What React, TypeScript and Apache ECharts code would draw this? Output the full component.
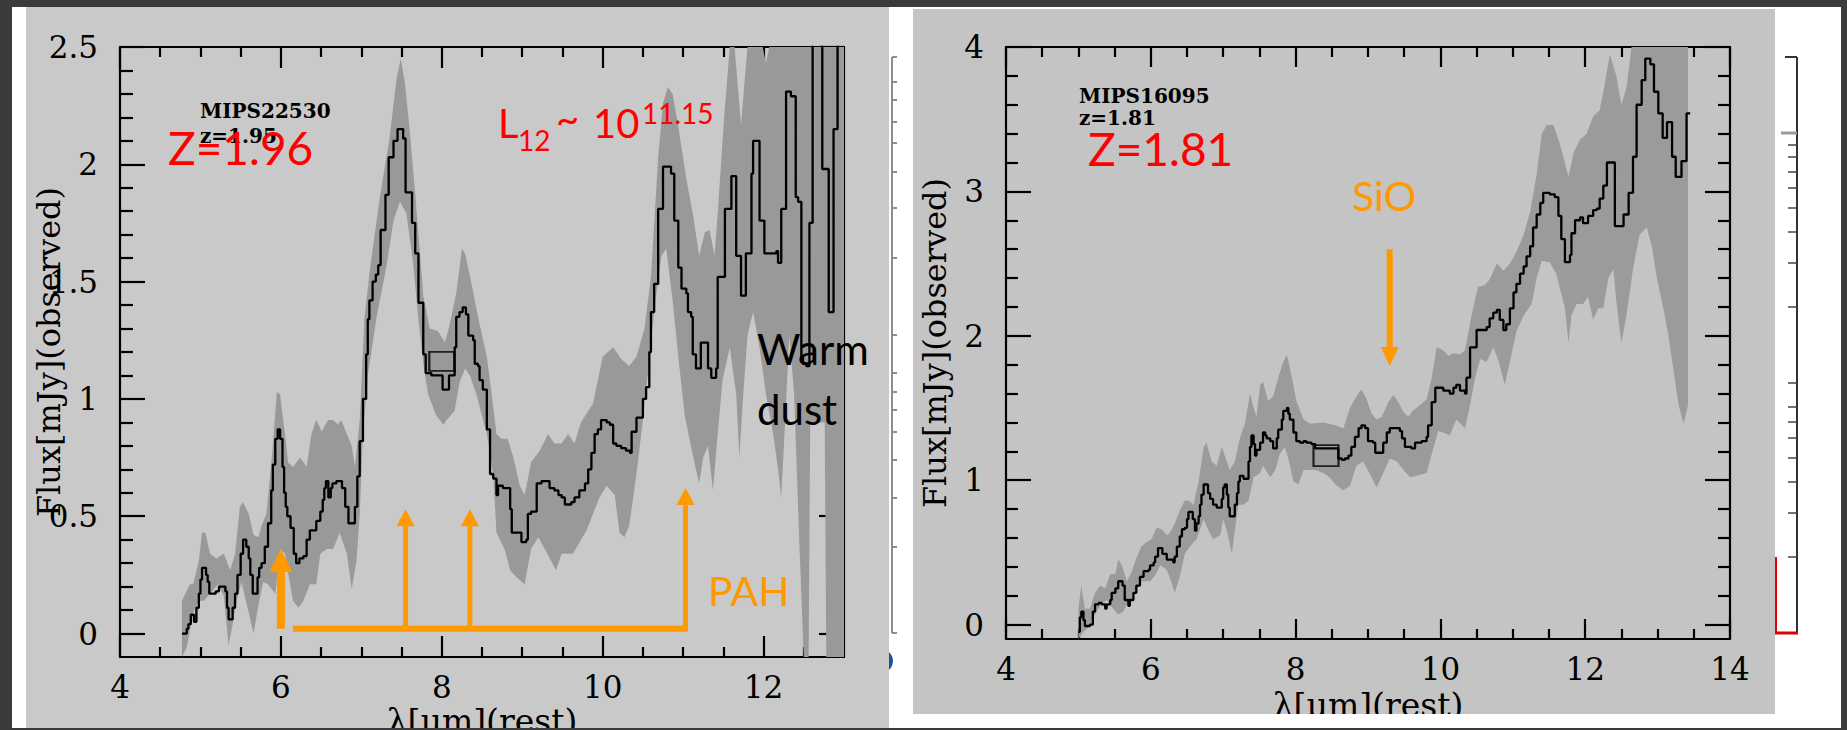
import React, { useEffect, useRef } from "react";
import * as echarts from "echarts";

// ---------- MIPS22530 (left panel) ----------
const LEFT_SPECTRUM: [number, number][] = [
  [4.77, 0.0], [4.83, 0.02], [4.85, 0.04], [4.88, 0.08], [4.92, 0.05], [4.95, 0.11], [4.98, 0.17], [5.0, 0.23],
  [5.02, 0.28], [5.07, 0.25], [5.09, 0.22], [5.11, 0.17], [5.19, 0.18], [5.23, 0.2], [5.29, 0.2], [5.31, 0.18],
  [5.33, 0.11], [5.35, 0.06], [5.4, 0.11], [5.43, 0.17], [5.46, 0.25], [5.5, 0.34], [5.53, 0.4], [5.57, 0.37],
  [5.6, 0.32], [5.62, 0.25], [5.65, 0.17], [5.71, 0.24], [5.73, 0.28], [5.76, 0.3], [5.8, 0.37], [5.84, 0.47],
  [5.88, 0.61], [5.9, 0.72], [5.93, 0.83], [5.96, 0.87], [5.99, 0.83], [6.02, 0.71], [6.04, 0.6], [6.06, 0.54],
  [6.08, 0.5], [6.12, 0.45], [6.16, 0.34], [6.19, 0.3], [6.23, 0.32], [6.28, 0.33], [6.32, 0.4], [6.36, 0.44],
  [6.44, 0.48], [6.49, 0.52], [6.52, 0.57], [6.54, 0.62], [6.56, 0.65], [6.59, 0.58], [6.62, 0.62], [6.64, 0.64],
  [6.69, 0.65], [6.76, 0.62], [6.8, 0.54], [6.84, 0.47], [6.92, 0.54], [6.95, 0.67], [6.98, 0.82], [7.02, 1.0],
  [7.06, 1.19], [7.08, 1.34], [7.1, 1.42], [7.14, 1.5], [7.18, 1.53], [7.21, 1.57], [7.24, 1.72], [7.3, 1.87],
  [7.34, 2.03], [7.4, 2.1], [7.45, 2.15], [7.52, 2.11], [7.55, 1.88], [7.63, 1.75], [7.67, 1.62], [7.71, 1.41],
  [7.77, 1.19], [7.8, 1.11], [7.87, 1.1], [7.95, 1.1], [8.01, 1.04], [8.09, 1.1], [8.16, 1.22], [8.18, 1.35],
  [8.22, 1.37], [8.26, 1.39], [8.3, 1.36], [8.33, 1.27], [8.39, 1.25], [8.41, 1.15], [8.45, 1.14], [8.47, 1.08],
  [8.51, 1.04], [8.56, 0.87], [8.6, 0.68], [8.64, 0.66], [8.68, 0.59], [8.7, 0.63], [8.76, 0.62], [8.85, 0.53],
  [8.87, 0.43], [8.93, 0.43], [8.99, 0.39], [9.05, 0.4], [9.07, 0.51], [9.11, 0.52], [9.18, 0.64], [9.24, 0.65],
  [9.3, 0.65], [9.34, 0.62], [9.4, 0.61], [9.45, 0.59], [9.49, 0.58], [9.53, 0.55], [9.61, 0.56], [9.65, 0.58],
  [9.71, 0.61], [9.78, 0.64], [9.82, 0.7], [9.86, 0.77], [9.9, 0.85], [9.94, 0.87], [9.98, 0.91], [10.05, 0.9],
  [10.09, 0.89], [10.13, 0.81], [10.17, 0.8], [10.23, 0.79], [10.29, 0.78], [10.34, 0.77], [10.36, 0.86], [10.42, 0.92],
  [10.5, 1.0], [10.54, 1.05], [10.58, 1.2], [10.6, 1.37], [10.64, 1.49], [10.69, 1.81], [10.75, 1.99], [10.85, 1.96],
  [10.89, 1.76], [10.94, 1.56], [10.98, 1.47], [11.04, 1.45], [11.06, 1.37], [11.1, 1.35], [11.12, 1.19], [11.16, 1.13],
  [11.22, 1.24], [11.31, 1.13], [11.35, 1.09], [11.41, 1.13], [11.43, 1.52], [11.52, 1.81], [11.6, 1.95], [11.66, 1.61],
  [11.72, 1.44], [11.78, 1.62], [11.85, 1.96], [11.87, 2.1], [11.95, 1.76], [12.01, 1.62], [12.16, 1.63], [12.18, 1.58],
  [12.22, 1.81], [12.28, 2.31], [12.34, 2.29], [12.4, 1.86], [12.43, 1.84], [12.47, 1.18], [12.49, 1.15], [12.53, 1.14],
  [12.57, 1.75], [12.61, 2.7], [12.73, 1.98], [12.81, 1.37], [12.87, 2.15], [12.92, 2.7], [13.0, 2.7],
];

const LEFT_BAND_UPPER: [number, number][] = [
  [4.77, 0.14], [4.87, 0.21], [4.91, 0.21], [4.98, 0.31], [5.02, 0.43], [5.06, 0.43], [5.12, 0.34], [5.2, 0.32],
  [5.29, 0.34], [5.37, 0.27], [5.43, 0.34], [5.49, 0.54], [5.53, 0.56], [5.6, 0.51], [5.66, 0.42], [5.72, 0.41],
  [5.76, 0.46], [5.82, 0.51], [5.89, 0.76], [5.95, 1.03], [5.99, 1.02], [6.05, 0.85], [6.09, 0.73], [6.15, 0.71],
  [6.24, 0.75], [6.32, 0.71], [6.38, 0.85], [6.44, 0.91], [6.51, 0.86], [6.55, 0.89], [6.59, 0.91], [6.65, 0.91],
  [6.71, 0.89], [6.75, 0.91], [6.82, 0.85], [6.88, 0.8], [6.92, 0.71], [6.98, 0.91], [7.04, 1.35], [7.11, 1.56],
  [7.23, 1.86], [7.35, 2.11], [7.44, 2.37], [7.49, 2.45], [7.54, 2.35], [7.6, 2.15], [7.68, 1.83], [7.77, 1.44],
  [7.85, 1.3], [7.95, 1.29], [8.04, 1.24], [8.1, 1.32], [8.18, 1.45], [8.25, 1.64], [8.29, 1.62], [8.37, 1.49],
  [8.45, 1.35], [8.56, 1.18], [8.62, 1.02], [8.68, 0.85], [8.74, 0.83], [8.82, 0.83], [8.89, 0.75], [8.97, 0.63],
  [9.03, 0.59], [9.11, 0.73], [9.22, 0.78], [9.32, 0.85], [9.4, 0.81], [9.49, 0.81], [9.57, 0.85], [9.65, 0.81],
  [9.73, 0.9], [9.88, 0.98], [10.0, 1.18], [10.13, 1.22], [10.23, 1.17], [10.33, 1.14], [10.42, 1.18], [10.52, 1.3],
  [10.6, 1.52], [10.69, 2.03], [10.75, 2.26], [10.81, 2.33], [10.87, 2.3], [10.94, 2.16], [11.04, 1.94], [11.12, 1.79],
  [11.2, 1.61], [11.27, 1.71], [11.33, 1.72], [11.39, 1.61], [11.43, 1.79], [11.51, 2.2], [11.58, 2.7], [11.64, 2.7],
  [11.72, 2.17], [11.8, 2.6], [11.99, 2.6], [12.03, 2.43], [12.07, 2.7], [13.0, 2.7],
];

const LEFT_BAND_LOWER: [number, number][] = [
  [4.77, -0.2], [4.83, -0.06], [4.91, 0.09], [4.98, 0.14], [5.04, 0.14], [5.12, 0.17], [5.22, 0.21], [5.29, 0.16],
  [5.35, -0.05], [5.39, 0.02], [5.45, 0.14], [5.51, 0.22], [5.6, 0.09], [5.66, 0.0], [5.72, 0.12], [5.78, 0.22],
  [5.84, 0.21], [5.93, 0.17], [5.99, 0.36], [6.05, 0.34], [6.11, 0.22], [6.15, 0.14], [6.22, 0.11], [6.28, 0.14],
  [6.36, 0.21], [6.44, 0.21], [6.49, 0.34], [6.57, 0.36], [6.65, 0.36], [6.73, 0.43], [6.82, 0.34], [6.88, 0.19],
  [6.94, 0.31], [6.98, 0.51], [7.02, 0.85], [7.08, 1.1], [7.19, 1.35], [7.31, 1.56], [7.4, 1.76], [7.48, 1.84],
  [7.56, 1.79], [7.64, 1.59], [7.71, 1.34], [7.77, 1.15], [7.83, 1.02], [7.93, 0.93], [8.02, 0.89], [8.06, 0.91],
  [8.16, 0.95], [8.22, 1.07], [8.29, 1.13], [8.35, 1.1], [8.43, 1.02], [8.56, 0.85], [8.64, 0.68], [8.68, 0.43],
  [8.78, 0.36], [8.85, 0.27], [8.93, 0.24], [9.03, 0.21], [9.11, 0.36], [9.2, 0.41], [9.28, 0.36], [9.42, 0.27],
  [9.49, 0.34], [9.63, 0.34], [9.8, 0.44], [9.96, 0.58], [10.05, 0.63], [10.15, 0.59], [10.21, 0.43], [10.27, 0.41],
  [10.33, 0.46], [10.42, 0.68], [10.5, 0.91], [10.56, 1.1], [10.65, 1.4], [10.73, 1.61], [10.79, 1.64], [10.87, 1.42],
  [10.94, 1.18], [11.02, 0.93], [11.12, 0.76], [11.2, 0.64], [11.25, 0.75], [11.31, 0.8], [11.37, 0.61], [11.43, 0.85],
  [11.49, 1.08], [11.58, 1.22], [11.66, 1.02], [11.7, 0.75], [11.74, 0.98], [11.8, 1.27], [11.87, 1.37], [11.95, 1.22],
  [12.03, 1.02], [12.12, 0.85], [12.18, 0.7], [12.22, 0.58], [12.26, 0.85], [12.32, 1.27], [12.38, 1.02], [12.45, 0.34],
  [12.5, -0.3], [12.56, -0.3], [12.58, 0.9], [12.76, 0.9], [12.78, -0.3], [13.0, -0.3],
];

// ---------- MIPS16095 (right panel) ----------
const RIGHT_SPECTRUM: [number, number][] = [
  [5.0, -0.05], [5.02, 0.05], [5.04, 0.09], [5.07, 0.03], [5.09, -0.01], [5.16, 0.0], [5.2, 0.09], [5.23, 0.14],
  [5.28, 0.15], [5.32, 0.14], [5.37, 0.11], [5.39, 0.14], [5.44, 0.17], [5.46, 0.22], [5.51, 0.25], [5.55, 0.3],
  [5.61, 0.27], [5.64, 0.17], [5.69, 0.13], [5.71, 0.17], [5.76, 0.22], [5.8, 0.27], [5.85, 0.33], [5.9, 0.37],
  [5.97, 0.38], [5.99, 0.41], [6.04, 0.43], [6.06, 0.47], [6.1, 0.53], [6.16, 0.49], [6.22, 0.45], [6.31, 0.43],
  [6.33, 0.47], [6.36, 0.54], [6.4, 0.61], [6.43, 0.66], [6.47, 0.67], [6.5, 0.73], [6.52, 0.78], [6.58, 0.73],
  [6.61, 0.65], [6.63, 0.7], [6.66, 0.75], [6.68, 0.83], [6.7, 0.9], [6.73, 0.97], [6.79, 0.91], [6.82, 0.87],
  [6.86, 0.83], [6.91, 0.81], [6.98, 0.87], [7.0, 0.95], [7.02, 0.97], [7.05, 0.9], [7.07, 0.81], [7.09, 0.75],
  [7.16, 0.83], [7.19, 0.91], [7.21, 0.99], [7.23, 1.03], [7.28, 1.01], [7.35, 1.13], [7.37, 1.23], [7.39, 1.31],
  [7.42, 1.25], [7.44, 1.17], [7.46, 1.21], [7.51, 1.26], [7.55, 1.33], [7.58, 1.31], [7.6, 1.29], [7.65, 1.27],
  [7.69, 1.22], [7.74, 1.29], [7.76, 1.35], [7.81, 1.42], [7.83, 1.48], [7.88, 1.5], [7.9, 1.46], [7.92, 1.42],
  [7.97, 1.33], [8.01, 1.27], [8.06, 1.26], [8.11, 1.27], [8.15, 1.26], [8.22, 1.25], [8.27, 1.22], [8.59, 1.15],
  [8.64, 1.14], [8.68, 1.15], [8.73, 1.17], [8.77, 1.23], [8.82, 1.3], [8.87, 1.36], [8.91, 1.38], [8.96, 1.36],
  [9.0, 1.27], [9.07, 1.26], [9.1, 1.19], [9.21, 1.26], [9.26, 1.33], [9.3, 1.36], [9.44, 1.34], [9.47, 1.29],
  [9.51, 1.23], [9.6, 1.22], [9.65, 1.26], [9.74, 1.27], [9.81, 1.3], [9.83, 1.38], [9.88, 1.54], [9.93, 1.64],
  [10.04, 1.62], [10.13, 1.6], [10.18, 1.64], [10.22, 1.66], [10.27, 1.62], [10.34, 1.6], [10.36, 1.71], [10.41, 1.92],
  [10.5, 2.04], [10.64, 2.06], [10.68, 2.12], [10.73, 2.16], [10.78, 2.18], [10.82, 2.11], [10.87, 2.04], [10.91, 2.08],
  [10.96, 2.19], [11.01, 2.3], [11.05, 2.36], [11.1, 2.43], [11.15, 2.48], [11.19, 2.55], [11.24, 2.62], [11.28, 2.75],
  [11.33, 2.84], [11.38, 2.92], [11.42, 2.99], [11.51, 2.98], [11.58, 2.96], [11.63, 2.83], [11.67, 2.67], [11.72, 2.51],
  [11.79, 2.56], [11.81, 2.71], [11.86, 2.8], [11.93, 2.82], [11.97, 2.78], [12.04, 2.83], [12.11, 2.87], [12.16, 2.88],
  [12.2, 2.95], [12.25, 3.04], [12.3, 3.2], [12.41, 2.76], [12.53, 2.84], [12.6, 2.99], [12.66, 3.24], [12.71, 3.6],
  [12.78, 3.77], [12.83, 3.92], [12.9, 3.88], [12.95, 3.69], [13.01, 3.54], [13.07, 3.37], [13.13, 3.48], [13.2, 3.24],
  [13.25, 3.1], [13.33, 3.21], [13.4, 3.54], [13.45, 3.54],
];

const RIGHT_BAND_UPPER: [number, number][] = [
  [5.0, 0.11], [5.04, 0.27], [5.09, 0.11], [5.16, 0.11], [5.23, 0.22], [5.3, 0.27], [5.37, 0.25], [5.44, 0.35],
  [5.51, 0.35], [5.55, 0.45], [5.6, 0.41], [5.67, 0.3], [5.74, 0.37], [5.8, 0.46], [5.87, 0.54], [5.94, 0.57],
  [6.01, 0.59], [6.08, 0.67], [6.15, 0.66], [6.22, 0.62], [6.26, 0.63], [6.33, 0.7], [6.4, 0.79], [6.47, 0.86],
  [6.52, 0.86], [6.59, 0.83], [6.66, 0.99], [6.73, 1.23], [6.77, 1.26], [6.84, 1.13], [6.91, 1.1], [6.98, 1.23],
  [7.05, 1.13], [7.09, 1.07], [7.16, 1.13], [7.23, 1.29], [7.3, 1.39], [7.37, 1.6], [7.42, 1.5], [7.46, 1.44],
  [7.51, 1.66], [7.55, 1.68], [7.62, 1.55], [7.69, 1.58], [7.76, 1.71], [7.83, 1.82], [7.88, 1.87], [7.95, 1.71],
  [8.01, 1.55], [8.11, 1.42], [8.2, 1.39], [8.38, 1.4], [8.55, 1.38], [8.66, 1.36], [8.75, 1.5], [8.84, 1.58],
  [8.91, 1.63], [8.98, 1.56], [9.05, 1.46], [9.12, 1.42], [9.19, 1.44], [9.28, 1.54], [9.35, 1.59], [9.42, 1.54],
  [9.49, 1.47], [9.56, 1.44], [9.62, 1.48], [9.72, 1.52], [9.81, 1.56], [9.88, 1.71], [9.95, 1.92], [10.04, 1.9],
  [10.11, 1.86], [10.18, 1.88], [10.27, 1.87], [10.34, 1.9], [10.43, 2.14], [10.52, 2.34], [10.61, 2.35], [10.68, 2.39],
  [10.78, 2.5], [10.87, 2.45], [10.96, 2.5], [11.05, 2.58], [11.15, 2.7], [11.24, 2.86], [11.33, 3.12], [11.4, 3.4],
  [11.47, 3.46], [11.56, 3.46], [11.65, 3.33], [11.77, 3.1], [11.84, 3.27], [11.93, 3.36], [12.02, 3.4], [12.11, 3.52],
  [12.2, 3.56], [12.27, 3.74], [12.34, 3.95], [12.43, 3.8], [12.5, 3.6], [12.57, 3.72], [12.64, 4.3], [13.42, 4.3],
];

const RIGHT_BAND_LOWER: [number, number][] = [
  [5.0, -0.1], [5.07, -0.05], [5.14, -0.02], [5.18, 0.02], [5.25, 0.09], [5.32, 0.14], [5.39, 0.17], [5.48, 0.11],
  [5.55, 0.07], [5.62, 0.09], [5.67, 0.14], [5.71, 0.14], [5.78, 0.22], [5.85, 0.3], [5.99, 0.3], [6.06, 0.34],
  [6.13, 0.41], [6.22, 0.38], [6.26, 0.33], [6.33, 0.22], [6.4, 0.33], [6.47, 0.49], [6.54, 0.54], [6.63, 0.59],
  [6.73, 0.73], [6.8, 0.65], [6.86, 0.59], [6.96, 0.62], [7.0, 0.73], [7.05, 0.65], [7.12, 0.49], [7.16, 0.65],
  [7.21, 0.83], [7.28, 0.83], [7.35, 0.86], [7.42, 1.02], [7.51, 1.05], [7.55, 1.1], [7.65, 1.02], [7.72, 1.07],
  [7.78, 1.18], [7.85, 1.23], [7.9, 1.15], [7.97, 0.99], [8.04, 0.97], [8.11, 1.07], [8.29, 1.07], [8.38, 1.05],
  [8.47, 1.02], [8.55, 0.97], [8.66, 0.93], [8.75, 0.96], [8.84, 1.1], [8.93, 1.13], [9.02, 1.05], [9.12, 0.95],
  [9.21, 1.05], [9.3, 1.15], [9.4, 1.13], [9.49, 1.07], [9.58, 1.02], [9.67, 1.03], [9.81, 1.05], [9.88, 1.18],
  [9.97, 1.34], [10.04, 1.33], [10.13, 1.31], [10.22, 1.42], [10.34, 1.36], [10.41, 1.52], [10.48, 1.71], [10.55, 1.84],
  [10.64, 1.82], [10.73, 1.92], [10.8, 1.83], [10.89, 1.66], [10.96, 1.82], [11.05, 2.03], [11.15, 2.14], [11.26, 2.22],
  [11.33, 2.4], [11.4, 2.52], [11.51, 2.51], [11.6, 2.43], [11.72, 2.19], [11.77, 1.95], [11.81, 2.14], [11.88, 2.22],
  [11.97, 2.22], [12.04, 2.27], [12.11, 2.11], [12.18, 2.19], [12.25, 2.19], [12.32, 2.4], [12.39, 2.46], [12.43, 2.24],
  [12.5, 1.95], [12.57, 2.14], [12.66, 2.46], [12.75, 2.7], [12.85, 2.75], [12.92, 2.62], [12.99, 2.4], [13.08, 2.19],
  [13.15, 2.0], [13.22, 1.76], [13.29, 1.52], [13.36, 1.39], [13.42, 1.52],
];

// reference square markers
const LEFT_MARKER: [number, number][] = [[8.0, 1.16]];
const RIGHT_MARKER: [number, number][] = [[8.42, 1.17]];

// axis ticks
const LEFT_X_MAJOR = [4, 6, 8, 10, 12];
const LEFT_X_MINOR = [4.5, 5, 5.5, 6.5, 7, 7.5, 8.5, 9, 9.5, 10.5, 11, 11.5, 12.5];
const LEFT_Y_MAJOR = [0, 0.5, 1, 1.5, 2, 2.5];
const LEFT_Y_MINOR = [0.1, 0.2, 0.3, 0.4, 0.6, 0.7, 0.8, 0.9, 1.1, 1.2, 1.3, 1.4, 1.6, 1.7, 1.8, 1.9, 2.1, 2.2, 2.3, 2.4];
const RIGHT_X_MAJOR = [4, 6, 8, 10, 12, 14];
const RIGHT_X_MINOR = [4.5, 5, 5.5, 6.5, 7, 7.5, 8.5, 9, 9.5, 10.5, 11, 11.5, 12.5, 13, 13.5];
const RIGHT_Y_MAJOR = [0, 1, 2, 3, 4];
const RIGHT_Y_MINOR = [0.2, 0.4, 0.6, 0.8, 1.2, 1.4, 1.6, 1.8, 2.2, 2.4, 2.6, 2.8, 3.2, 3.4, 3.6, 3.8];

// annotation anchors (data coordinates)
const PAH_WAVES = [6.0, 7.55, 8.35, 11.03];
const PAH_TIPS = [0.36, 0.53, 0.53, 0.62];
const PAH_BASE = 0.02;
const PAH_BAR = [6.15, 11.06];
const SIO_WAVE = 9.3;
const SIO_FROM = 2.6;
const SIO_TIP = 1.79;

const SERIF = "DejaVu Serif";
const SANS = "Lato";
const ORANGE = "#ff9900";

export default function App() {
  const ref = useRef<HTMLDivElement>(null);

  useEffect(() => {
    if (!ref.current) return;
    const chart = echarts.init(ref.current, null, { renderer: "svg" });

    const mkX = (grid: number, pos: string, min: number, max: number, ticks: number[], len: number, major: boolean, labels: number[] | null, name?: string, nameGap?: number) => ({
      type: "value", gridIndex: grid, position: pos, min, max, z: 3,
      axisLine: { show: major, onZero: false, lineStyle: { color: "#000", width: 2.2 } },
      axisTick: { show: true, inside: true, length: len, customValues: ticks, lineStyle: { color: "#000", width: 2.2 } },
      axisLabel: labels ? { show: true, customValues: labels, color: "#000", fontFamily: SERIF, fontSize: 31, margin: 14 } : { show: false },
      splitLine: { show: false },
      name: name || "", nameLocation: "middle", nameGap: nameGap || 0, nameMoveOverlap: false,
      nameTextStyle: { color: "#000", fontFamily: SERIF, fontSize: 33 },
    });
    const mkY = (grid: number, pos: string, min: number, max: number, ticks: number[], len: number, major: boolean, labels: number[] | null, name?: string, nameGap?: number) => ({
      type: "value", gridIndex: grid, position: pos, min, max, z: 3,
      axisLine: { show: major, onZero: false, lineStyle: { color: "#000", width: 2.2 } },
      axisTick: { show: true, inside: true, length: len, customValues: ticks, lineStyle: { color: "#000", width: 2.2 } },
      axisLabel: labels ? { show: true, customValues: labels, color: "#000", fontFamily: SERIF, fontSize: 31, margin: 22 } : { show: false },
      splitLine: { show: false },
      name: name || "", nameLocation: "middle", nameGap: nameGap || 0, nameRotate: 90, nameMoveOverlap: false,
      nameTextStyle: { color: "#000", fontFamily: SERIF, fontSize: 32 },
    });

    const band = (xi: number, yi: number, upper: [number, number][], lower: [number, number][], color: string) => ({
      type: "custom", xAxisIndex: xi, yAxisIndex: yi, clip: true, silent: true, z: 4,
      data: [[upper[0][0], upper[0][1]]],
      renderItem: (params: any, api: any) => {
        const cs = params.coordSys;
        const pts: number[][] = [];
        upper.forEach((p) => pts.push(api.coord(p)));
        for (let i = lower.length - 1; i >= 0; i--) pts.push(api.coord(lower[i]));
        const cl = pts.map(([x, y]) => [
          Math.min(Math.max(x, cs.x), cs.x + cs.width),
          Math.min(Math.max(y, cs.y), cs.y + cs.height),
        ]);
        return { type: "polygon", shape: { points: cl }, style: { fill: color } };
      },
    });
    const step = (xi: number, yi: number, data: [number, number][]) => ({
      type: "line", xAxisIndex: xi, yAxisIndex: yi, data, step: "end", showSymbol: false, symbol: "none",
      clip: true, silent: true, z: 5, lineStyle: { color: "#000", width: 2.3 },
    });
    const marker = (xi: number, yi: number, data: [number, number][], size: number[]) => ({
      type: "scatter", xAxisIndex: xi, yAxisIndex: yi, data, symbol: "rect", symbolSize: size, silent: true, z: 6,
      itemStyle: { color: "rgba(0,0,0,0)", borderColor: "#000", borderWidth: 2 },
    });

    const gridL = { left: 120, top: 47, width: 724, height: 610, outerBoundsMode: "none", containLabel: false };
    const gridR = { left: 1006, top: 47, width: 724, height: 592, outerBoundsMode: "none", containLabel: false };

    const option: any = {
      animation: false,
      backgroundColor: "#3b3b3b",
      grid: [gridL, gridR, { ...gridL }, { ...gridR }],
      xAxis: [
        mkX(0, "bottom", 4, 13, LEFT_X_MAJOR, 21, true, LEFT_X_MAJOR, "λ[μm](rest)", 48),
        mkX(0, "top", 4, 13, LEFT_X_MAJOR, 21, true, null),
        mkX(2, "bottom", 4, 13, LEFT_X_MINOR, 10, false, null),
        mkX(2, "top", 4, 13, LEFT_X_MINOR, 10, false, null),
        mkX(1, "bottom", 4, 14, RIGHT_X_MAJOR, 20, true, RIGHT_X_MAJOR, "λ[μm](rest)", 50),
        mkX(1, "top", 4, 14, RIGHT_X_MAJOR, 20, true, null),
        mkX(3, "bottom", 4, 14, RIGHT_X_MINOR, 10, false, null),
        mkX(3, "top", 4, 14, RIGHT_X_MINOR, 10, false, null),
      ],
      yAxis: [
        mkY(0, "left", -0.1, 2.5, LEFT_Y_MAJOR, 25, true, LEFT_Y_MAJOR, "Flux[mJy](observed)", 55),
        mkY(0, "right", -0.1, 2.5, LEFT_Y_MAJOR, 25, true, null),
        mkY(2, "left", -0.1, 2.5, LEFT_Y_MINOR, 13, false, null),
        mkY(2, "right", -0.1, 2.5, LEFT_Y_MINOR, 13, false, null),
        mkY(1, "left", -0.1, 4, RIGHT_Y_MAJOR, 25, true, RIGHT_Y_MAJOR, "Flux[mJy](observed)", 55),
        mkY(1, "right", -0.1, 4, RIGHT_Y_MAJOR, 25, true, null),
        mkY(3, "left", -0.1, 4, RIGHT_Y_MINOR, 12, false, null),
        mkY(3, "right", -0.1, 4, RIGHT_Y_MINOR, 12, false, null),
      ],
      series: [
        band(0, 0, LEFT_BAND_UPPER, LEFT_BAND_LOWER, "#999999"),
        step(0, 0, LEFT_SPECTRUM),
        marker(0, 0, LEFT_MARKER, [25, 19]),
        band(4, 4, RIGHT_BAND_UPPER, RIGHT_BAND_LOWER, "#9b9b9b"),
        step(4, 4, RIGHT_SPECTRUM),
        marker(4, 4, RIGHT_MARKER, [25, 21]),
      ],
    };
    chart.setOption(option);

    const pxL = (x: number, y: number) => chart.convertToPixel({ xAxisIndex: 0, yAxisIndex: 0 }, [x, y]) as number[];
    const pxR = (x: number, y: number) => chart.convertToPixel({ xAxisIndex: 4, yAxisIndex: 4 }, [x, y]) as number[];

    const g: any[] = [];
    const rect = (x: number, y: number, w: number, h: number, fill: string, z: number) =>
      g.push({ type: "rect", silent: true, z, shape: { x, y, width: w, height: h }, style: { fill } });
    const line = (x1: number, y1: number, x2: number, y2: number, stroke: string, w: number, z: number) =>
      g.push({ type: "line", silent: true, z, shape: { x1, y1, x2, y2 }, style: { stroke, lineWidth: w } });
    const text = (x: number, y: number, s: string, size: number, fam: string, fill: string, weight = "normal") =>
      g.push({
        type: "text", silent: true, z: 12, x, y,
        style: { text: s, fontSize: size, fontFamily: fam, fontWeight: weight, fill, align: "left", verticalAlign: "middle", textAlign: "left", textVerticalAlign: "middle" },
      });
    const arrow = (bx: number, by: number, tx: number, ty: number, shaftW: number, headW: number, headL: number) => {
      const dir = ty < by ? 1 : -1; // 1 = pointing up
      line(bx, by, tx, ty + dir * headL, ORANGE, shaftW, 11);
      g.push({
        type: "polygon", silent: true, z: 11,
        shape: { points: [[tx, ty], [tx - headW / 2, ty + dir * headL], [tx + headW / 2, ty + dir * headL]] },
        style: { fill: ORANGE },
      });
    };

    // page backgrounds
    rect(12, 7, 1829, 721, "#ffffff", 0);
    g.push({ type: "circle", silent: true, z: 0, shape: { cx: 881, cy: 661, r: 12 }, style: { fill: "#1f4f9e" } });
    rect(26, 7, 863, 721, "#c9c9c9", 1);
    rect(913, 9, 862, 705, "#c4c4c4", 1);

    // faint axis peeking between panels
    line(892, 57, 892, 633, "#8e8e8e", 2, 1);
    [57, 82, 100, 122, 143, 172, 208, 258, 335, 373, 392, 410, 432, 460, 498, 547, 633].forEach((y) => line(892, y, 897, y, "#8e8e8e", 2, 1));
    // axis peeking at right side
    line(1797, 57, 1797, 633, "#333333", 2, 1);
    line(1785, 57, 1797, 57, "#333333", 2, 1);
    line(1781, 133, 1797, 133, "#9a9a9a", 3, 1);
    [145, 157, 172, 188, 208, 232, 263, 307, 383, 407, 422, 438, 458, 482, 513, 557].forEach((y) => line(1788, y, 1797, y, "#444444", 1.5, 1));
    line(1776, 557, 1776, 633, "#e00000", 2, 1);
    line(1775, 633, 1798, 633, "#e00000", 3, 1);

    // PAH arrows
    PAH_WAVES.forEach((w, i) => {
      const [bx, by] = pxL(w, PAH_BASE);
      const [tx, ty] = pxL(w, PAH_TIPS[i]);
      if (i === 0) arrow(bx, by, tx, ty, 8, 23, 23);
      else arrow(bx, by, tx, ty, 5, 18, 17);
    });
    {
      const [x1, y1] = pxL(PAH_BAR[0], PAH_BASE);
      const [x2] = pxL(PAH_BAR[1], PAH_BASE);
      line(x1, y1, x2, y1, ORANGE, 6, 11);
    }
    // SiO arrow
    {
      const [bx, by] = pxR(SIO_WAVE, SIO_FROM);
      const [tx, ty] = pxR(SIO_WAVE, SIO_TIP);
      arrow(bx, by, tx, ty, 6, 18, 19);
    }

    // left panel texts
    text(200, 111, "MIPS22530", 20, SERIF, "#000", "bold");
    text(200, 136, "z=1.95", 20, SERIF, "#000", "bold");
    text(168, 147, "Z=1.96", 46, SANS, "#ff0000");
    text(498, 123, "L", 40, SANS, "#ff0000");
    text(518, 140, "12", 28, SANS, "#ff0000");
    text(556, 118, "~", 40, SANS, "#ff0000");
    text(593, 123, "10", 40, SANS, "#ff0000");
    text(642, 113, "11.15", 28, SANS, "#ff0000");
    text(757, 349, "Warm", 42, SANS, "#000");
    text(757, 409, "dust", 42, SANS, "#000");
    text(708, 590, "PAH", 41, SANS, ORANGE);
    // right panel texts
    text(1079, 96, "MIPS16095", 20, SERIF, "#000", "bold");
    text(1079, 118, "z=1.81", 20, SERIF, "#000", "bold");
    text(1088, 148, "Z=1.81", 46, SANS, "#ff0000");
    text(1352, 195, "SiO", 41, SANS, ORANGE);

    // frame overlays
    rect(913, 714, 862, 14, "#ffffff", 19);
    rect(0, 0, 1847, 7, "#3b3b3b", 20);
    rect(0, 0, 12, 730, "#3b3b3b", 20);
    rect(1841, 0, 6, 730, "#3b3b3b", 20);
    rect(0, 728, 1847, 2, "#3b3b3b", 20);

    chart.setOption({ graphic: g });

    return () => chart.dispose();
  }, []);

  return <div ref={ref} style={{ position: "fixed", left: 0, top: 0, width: 1847, height: 730 }} />;
}
